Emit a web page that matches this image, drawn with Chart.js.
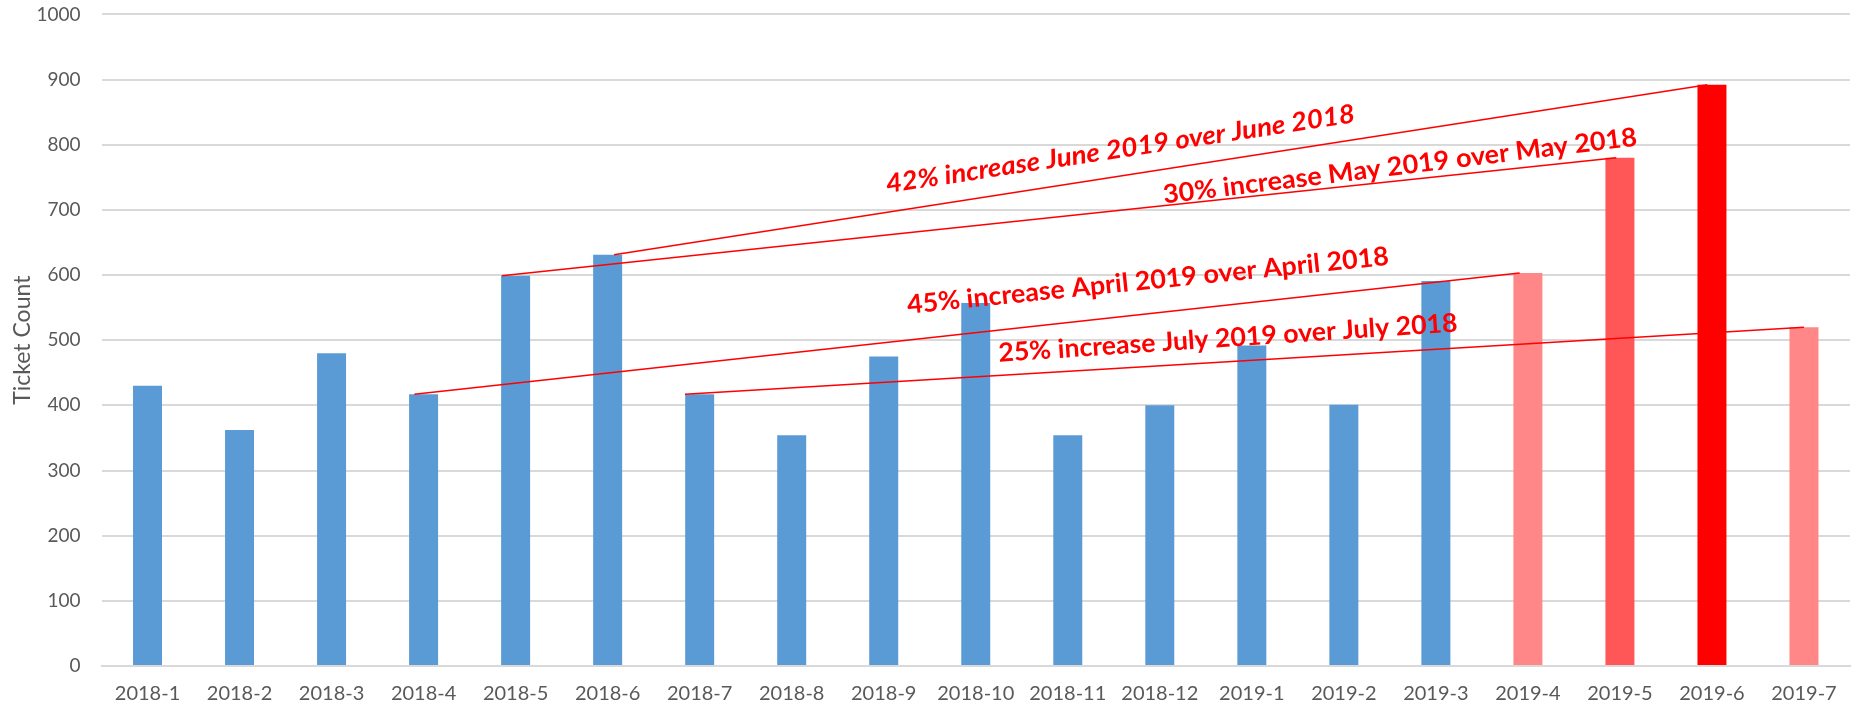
<!DOCTYPE html>
<html lang="en">
<head>
  <meta charset="UTF-8" />
  <title>Ticket Count</title>
  <script src="https://cdn.jsdelivr.net/npm/chart.js"></script>
  <style>
    html, body { margin: 0; padding: 0; background: #fff; }
    #frame { width: 1859px; height: 710px; overflow: hidden; position: relative; }
    #wrap { position: absolute; left: 0; top: -18px; width: 1859px; height: 728px; }
  </style>
</head>
<body>
  <div id="frame"><div id="wrap"><canvas id="tickets"></canvas></div></div>

  <script>
    // months and ticket counts
    const months = ['2018-1','2018-2','2018-3','2018-4','2018-5','2018-6','2018-7','2018-8','2018-9','2018-10',
                    '2018-11','2018-12','2019-1','2019-2','2019-3','2019-4','2019-5','2019-6','2019-7'];
    const tickets = [430, 362, 480, 417, 599, 631, 417, 354, 475, 557, 354, 400, 492, 401, 591, 603, 780, 892, 520];
    const barColors = ['#5b9bd5','#5b9bd5','#5b9bd5','#5b9bd5','#5b9bd5','#5b9bd5','#5b9bd5','#5b9bd5','#5b9bd5','#5b9bd5',
                       '#5b9bd5','#5b9bd5','#5b9bd5','#5b9bd5','#5b9bd5','#ff8787','#ff5757','#ff0000','#ff8787'];
    const yTicks = [0, 100, 200, 300, 400, 500, 600, 700, 800, 900, 1000];

    // year-over-year comparison callouts
    const noteText = ['42% increase June 2019 over June 2018', '30% increase May 2019 over May 2018',
                      '45% increase April 2019 over April 2018', '25% increase July 2019 over July 2018'];
    const noteFrom = ['2018-6', '2018-5', '2018-4', '2018-7'];
    const noteTo   = ['2019-6', '2019-5', '2019-4', '2019-7'];
    // where each label sits (category position, value)
    const noteX = [10.57, 13.61, 10.87, 11.74];
    const noteY = [793, 767, 591, 503];

    const callouts = {
      id: 'callouts',
      afterDatasetsDraw(chart) {
        const { ctx, scales: { x, y } } = chart;
        const step = x.getPixelForValue(1) - x.getPixelForValue(0);
        const ends = [[0.07, -0.05], [-0.15, -0.04], [-0.1, -0.09], [-0.16, 0]];
        const tilt = [-8.6, -7, -5.8, -3.8];
        const span = [474, 477, 484, 460];
        ctx.save();
        ctx.strokeStyle = '#ff0000';
        ctx.fillStyle = '#ff0000';
        ctx.lineWidth = 1.5;
        noteText.forEach((t, i) => {
          const a = months.indexOf(noteFrom[i]);
          const b = months.indexOf(noteTo[i]);
          ctx.beginPath();
          ctx.moveTo(x.getPixelForValue(a) + ends[i][0] * step, y.getPixelForValue(tickets[a]));
          ctx.lineTo(x.getPixelForValue(b) + ends[i][1] * step, y.getPixelForValue(tickets[b]));
          ctx.stroke();

          ctx.save();
          ctx.translate(x.getPixelForValue(0) + noteX[i] * step, y.getPixelForValue(noteY[i]));
          ctx.rotate(tilt[i] * Math.PI / 180);
          ctx.font = (i === 0 ? 'italic ' : '') + 'bold 26px Lato, "Liberation Sans", sans-serif';
          ctx.scale(span[i] / ctx.measureText(t).width, 1);
          ctx.textAlign = 'center';
          ctx.textBaseline = 'middle';
          ctx.fillText(t, 0, 0);
          ctx.restore();
        });
        ctx.restore();
      }
    };

    new Chart(document.getElementById('tickets'), {
      type: 'bar',
      data: {
        labels: months,
        datasets: [{
          label: 'Ticket Count',
          data: tickets,
          backgroundColor: barColors,
          barPercentage: 0.315,
          categoryPercentage: 1
        }]
      },
      options: {
        responsive: true,
        maintainAspectRatio: false,
        animation: false,
        layout: { padding: { top: 0, right: 9, left: 0, bottom: 0 } },
        plugins: { legend: { display: false }, tooltip: { enabled: false } },
        scales: {
          x: {
            grid: { display: false },
            border: { color: '#d9d9d9', width: 2 },
            ticks: { color: '#595959', font: { family: 'Lato', size: 20 }, padding: 8, maxRotation: 0 },
            afterFit(s) { s.height = 44; }
          },
          y: {
            min: 0, max: 1000,
            afterBuildTicks(s) { s.ticks = yTicks.map(v => ({ value: v })); },
            grid: { color: '#d9d9d9', lineWidth: 2, drawTicks: false },
            border: { display: false },
            ticks: { color: '#595959', font: { family: 'Lato', size: 19 }, padding: 21, callback: v => String(v) },
            title: { display: true, text: 'Ticket Count', color: '#595959', font: { family: 'Lato', size: 23 }, padding: { top: 9, bottom: 0 } },
            afterFit(s) { s.width = 101.5; }
          }
        }
      },
      plugins: [callouts]
    });
  </script>
</body>
</html>
